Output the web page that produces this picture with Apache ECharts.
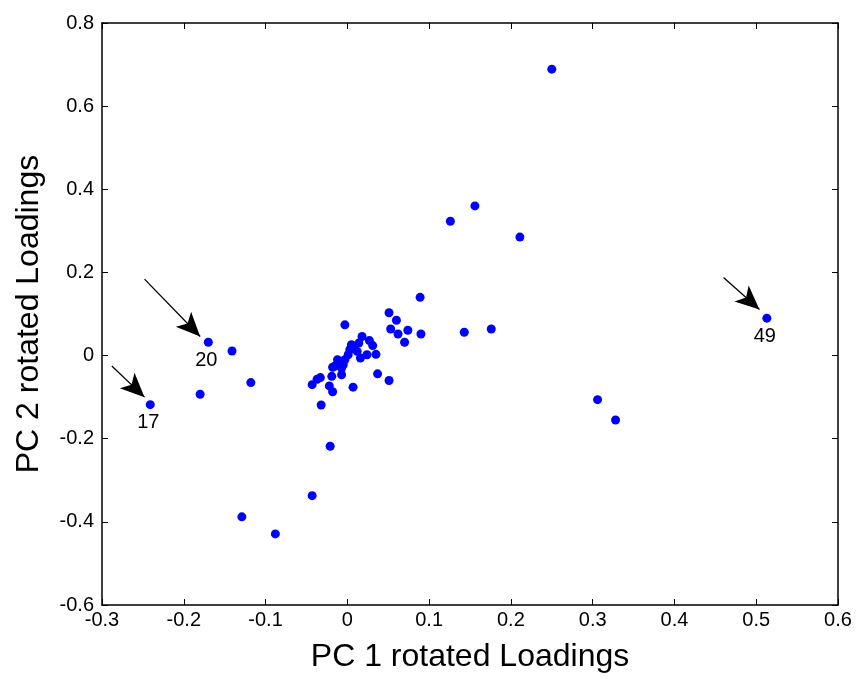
<!DOCTYPE html>
<html>
<head>
<meta charset="utf-8">
<script src="https://cdn.jsdelivr.net/npm/echarts@6/dist/echarts.min.js"></script>
<style>html,body{margin:0;padding:0;background:#fff}#c{width:861px;height:679px}</style>
</head>
<body>
<div id="c"></div>
<script>
// PC loadings (x = PC1, y = PC2)
const pc1 = [0.250,0.156,0.126,0.211,0.089,0.090,0.143,0.176,0.306,0.328,0.513,
  -0.170,-0.141,-0.118,-0.180,-0.241,-0.129,-0.088,-0.043,-0.021,
  0.051,0.060,0.053,0.062,0.074,0.070,-0.003,0.018,0.027,0.031,0.035,0.014,0.009,0.003,0.001,
  0.016,0.024,-0.003,-0.005,-0.012,-0.015,-0.018,-0.007,0.037,0.051,0.007,-0.022,-0.018,-0.019,
  -0.033,-0.037,-0.043,-0.032,0.005,0.012,-0.007];
const pc2 = [0.689,0.360,0.323,0.285,0.140,0.052,0.056,0.064,-0.106,-0.155,0.090,
  0.032,0.011,-0.065,-0.093,-0.118,-0.388,-0.429,-0.337,-0.218,
  0.103,0.085,0.064,0.052,0.061,0.032,0.074,0.046,0.036,0.024,0.003,0.030,0.022,0.014,0.002,
  -0.006,0.002,-0.010,-0.022,-0.010,-0.025,-0.028,-0.046,-0.044,-0.060,-0.076,-0.073,-0.087,-0.050,
  -0.053,-0.057,-0.070,-0.119,0.026,0.010,-0.030];
// labelled variables
const labelNames = ['20','17','49'];
const labelX = [-0.170,-0.241,0.513];
const labelY = [0.032,-0.118,0.090];
// arrows: start and end points in data units
const arrowStart = [[-0.248,0.184],[-0.288,-0.025],[0.460,0.188]];
const arrowEnd = [[-0.180,0.046],[-0.248,-0.100],[0.504,0.111]];
const xTicks = [-0.3,-0.2,-0.1,0,0.1,0.2,0.3,0.4,0.5,0.6];
const yTicks = [-0.6,-0.4,-0.2,0,0.2,0.4,0.6,0.8];

const font = 'Liberation Sans, Arial, sans-serif';
const chart = echarts.init(document.getElementById('c'));
const fmt = v => { const r = Math.round(v*10)/10; return r === 0 ? '0' : String(r); };
const baseX = {
  type:'value', min:xTicks[0], max:xTicks[xTicks.length-1], interval:0.1,
  splitLine:{show:false},
  axisLine:{show:true,onZero:false,lineStyle:{color:'#000',width:1.5}},
  axisTick:{show:true,inside:true,length:6,lineStyle:{color:'#000'}}
};
const baseY = {
  type:'value', min:yTicks[0], max:yTicks[yTicks.length-1], interval:0.2,
  splitLine:{show:false},
  axisLine:{show:true,onZero:false,lineStyle:{color:'#000',width:1.5}},
  axisTick:{show:true,inside:true,length:6,lineStyle:{color:'#000'}}
};
chart.setOption({
  backgroundColor:'#fff',
  animation:false,
  grid:{left:102,right:23,top:23,bottom:74},
  xAxis:[
    Object.assign({}, baseX, {position:'bottom',
      axisLabel:{color:'#000',fontSize:20,fontFamily:font,margin:5,formatter:fmt},
      name:'PC 1 rotated Loadings', nameLocation:'middle', nameGap:36,
      nameTextStyle:{color:'#000',fontSize:32,fontFamily:font}}),
    Object.assign({}, baseX, {position:'top', axisLabel:{show:false}})
  ],
  yAxis:[
    Object.assign({}, baseY, {position:'left',
      axisLabel:{color:'#000',fontSize:20,fontFamily:font,margin:8,formatter:fmt},
      name:'PC 2 rotated Loadings', nameLocation:'middle', nameGap:57,
      nameTextStyle:{color:'#000',fontSize:32,fontFamily:font}}),
    Object.assign({}, baseY, {position:'right', axisLabel:{show:false}})
  ],
  series:[
    {
      type:'scatter', xAxisIndex:0, yAxisIndex:0, symbolSize:9,
      itemStyle:{color:'#0000ff',opacity:1},
      data: pc1.map((x,i)=>[x,pc2[i]]),
      markLine:{
        silent:true, animation:false,
        symbol:['none','arrow'], symbolSize:[16,24],
        lineStyle:{color:'#000',width:1.3,type:'solid',opacity:1},
        itemStyle:{color:'#000'},
        label:{show:false},
        emphasis:{disabled:true},
        data: arrowStart.map((s,i)=>[{coord:s},{coord:arrowEnd[i]}])
      }
    },
    {
      type:'scatter', xAxisIndex:0, yAxisIndex:0, symbolSize:0,
      itemStyle:{opacity:1,color:'#000'},
      data: labelNames.map((n,i)=>({name:n,value:[labelX[i],labelY[i]]})),
      label:{show:true,position:'bottom',distance:8,offset:[-2,0],formatter:'{b}',
        color:'#000',fontSize:20,fontFamily:font,opacity:1},
      z:5
    }
  ]
});
</script>
</body>
</html>
